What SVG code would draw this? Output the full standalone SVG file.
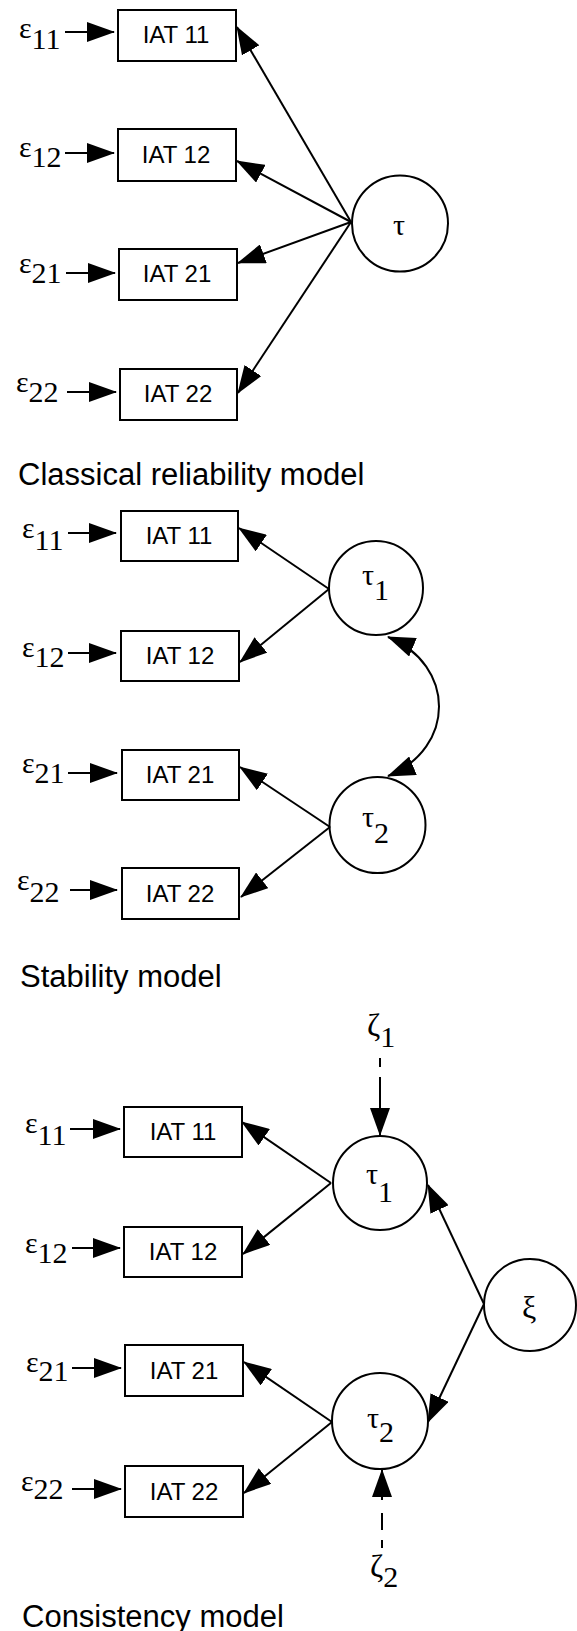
<svg xmlns="http://www.w3.org/2000/svg" width="577" height="1631" viewBox="0 0 577 1631">
<style>
.bg{fill:#fff}
.box{fill:#fff;stroke:#000;stroke-width:2}
.circ{fill:#fff;stroke:#000;stroke-width:2}
.lbl{font-family:"Liberation Sans",Arial,sans-serif;font-size:24px;text-anchor:middle;fill:#000}
.gr{font-family:"Liberation Serif","Times New Roman",serif;font-size:30px;fill:#000}
.gr2{font-family:"Liberation Serif","Times New Roman",serif;font-size:32px;fill:#000}
.cap{font-family:"Liberation Sans",Arial,sans-serif;font-size:31px;fill:#000}
.edge{stroke:#000;stroke-width:2;fill:none;marker-end:url(#ah)}
.dbl{stroke:#000;stroke-width:2;fill:none;marker-end:url(#ah);marker-start:url(#ah)}
.dash{stroke:#000;stroke-width:2;fill:none;marker-end:url(#ah)}
</style>
<defs>
<marker id="ah" markerUnits="userSpaceOnUse" viewBox="0 0 28 20" markerWidth="28" markerHeight="20" refX="27" refY="10" orient="auto-start-reverse">
<path d="M0,0 L28,10 L0,20 Z" fill="#000"/>
</marker>
</defs>
<rect class="bg" x="0" y="0" width="577" height="1631"/>

<!-- Section 1: Classical reliability model -->
<g id="s1_e11"><text class="gr" x="19" y="38">ε<tspan y="49">11</tspan></text></g>
<g id="s1_e12"><text class="gr" x="19" y="157">ε<tspan y="167">12</tspan></text></g>
<g id="s1_e21"><text class="gr" x="19" y="273">ε<tspan y="283">21</tspan></text></g>
<g id="s1_e22"><text class="gr" x="16" y="392">ε<tspan y="402">22</tspan></text></g>
<g id="s1_iat11"><rect class="box" x="118" y="10" width="118" height="51"/><text class="lbl" x="176" y="43">IAT 11</text></g>
<g id="s1_iat12"><rect class="box" x="118" y="129" width="118" height="52"/><text class="lbl" x="176" y="163">IAT 12</text></g>
<g id="s1_iat21"><rect class="box" x="119" y="249" width="118" height="51"/><text class="lbl" x="177" y="282">IAT 21</text></g>
<g id="s1_iat22"><rect class="box" x="120" y="369" width="117" height="51"/><text class="lbl" x="178" y="402">IAT 22</text></g>
<g id="s1_tau"><circle class="circ" cx="400" cy="223.5" r="48"/><text class="gr" x="393" y="235">τ</text></g>
<g id="s1_caption"><text class="cap" x="18" y="485">Classical reliability model</text></g>

<!-- Section 2: Stability model -->
<g id="s2_e11"><text class="gr" x="22" y="538">ε<tspan y="550">11</tspan></text></g>
<g id="s2_e12"><text class="gr" x="22" y="657">ε<tspan y="667">12</tspan></text></g>
<g id="s2_e21"><text class="gr" x="22" y="773">ε<tspan y="783">21</tspan></text></g>
<g id="s2_e22"><text class="gr" x="17" y="890">ε<tspan y="902">22</tspan></text></g>
<g id="s2_iat11"><rect class="box" x="121" y="511" width="117" height="50"/><text class="lbl" x="179" y="544">IAT 11</text></g>
<g id="s2_iat12"><rect class="box" x="121" y="631" width="118" height="50"/><text class="lbl" x="180" y="664">IAT 12</text></g>
<g id="s2_iat21"><rect class="box" x="122" y="750" width="117" height="50"/><text class="lbl" x="180" y="783">IAT 21</text></g>
<g id="s2_iat22"><rect class="box" x="122" y="868" width="117" height="51"/><text class="lbl" x="180" y="902">IAT 22</text></g>
<g id="s2_tau1"><circle class="circ" cx="376" cy="588" r="47"/><text class="gr" x="362" y="585">τ<tspan y="600">1</tspan></text></g>
<g id="s2_tau2"><circle class="circ" cx="377.5" cy="825" r="48"/><text class="gr" x="362" y="827">τ<tspan y="843">2</tspan></text></g>
<g id="s2_caption"><text class="cap" x="20" y="987">Stability model</text></g>

<!-- Section 3: Consistency model -->
<g id="s3_e11"><text class="gr" x="25" y="1133">ε<tspan y="1145">11</tspan></text></g>
<g id="s3_e12"><text class="gr" x="25" y="1253">ε<tspan y="1263">12</tspan></text></g>
<g id="s3_e21"><text class="gr" x="26" y="1372">ε<tspan y="1381">21</tspan></text></g>
<g id="s3_e22"><text class="gr" x="21" y="1491">ε<tspan y="1499">22</tspan></text></g>
<g id="s3_iat11"><rect class="box" x="124" y="1107" width="118" height="50"/><text class="lbl" x="183" y="1140">IAT 11</text></g>
<g id="s3_iat12"><rect class="box" x="124" y="1227" width="118" height="50"/><text class="lbl" x="183" y="1260">IAT 12</text></g>
<g id="s3_iat21"><rect class="box" x="125" y="1345" width="118" height="51"/><text class="lbl" x="184" y="1379">IAT 21</text></g>
<g id="s3_iat22"><rect class="box" x="125" y="1466" width="118" height="51"/><text class="lbl" x="184" y="1500">IAT 22</text></g>
<g id="s3_tau1"><circle class="circ" cx="380" cy="1183" r="47"/><text class="gr" x="366" y="1184">τ<tspan y="1202">1</tspan></text></g>
<g id="s3_tau2"><circle class="circ" cx="380" cy="1421" r="48"/><text class="gr" x="367" y="1428">τ<tspan y="1442">2</tspan></text></g>
<g id="s3_xi"><circle class="circ" cx="530" cy="1305" r="46"/><text class="gr2" x="522" y="1318">ξ</text></g>
<g id="s3_zeta1"><text class="gr2" x="367" y="1036">ζ<tspan class="gr" y="1047">1</tspan></text></g>
<g id="s3_zeta2"><text class="gr2" x="370" y="1577">ζ<tspan class="gr" y="1587">2</tspan></text></g>
<g id="s3_caption"><text class="cap" x="22" y="1627">Consistency model</text></g>

<g id="connectors">
<!-- section 1 -->
<line class="edge" x1="65" y1="32" x2="114" y2="32"/>
<line class="edge" x1="65" y1="153" x2="114" y2="153"/>
<line class="edge" x1="66" y1="273" x2="115" y2="273"/>
<line class="edge" x1="67" y1="392" x2="116" y2="392"/>
<line class="edge" x1="351" y1="222" x2="237" y2="27"/>
<line class="edge" x1="351" y1="222" x2="237" y2="161"/>
<line class="edge" x1="351" y1="222" x2="238" y2="263"/>
<line class="edge" x1="351" y1="222" x2="238" y2="393"/>
<!-- section 2 -->
<line class="edge" x1="68" y1="533" x2="116" y2="533"/>
<line class="edge" x1="68" y1="653" x2="116" y2="653"/>
<line class="edge" x1="68" y1="773" x2="117" y2="773"/>
<line class="edge" x1="70" y1="890" x2="117" y2="890"/>
<line class="edge" x1="329" y1="589" x2="239" y2="528"/>
<line class="edge" x1="329" y1="589" x2="240" y2="662"/>
<line class="edge" x1="330" y1="827" x2="240" y2="767"/>
<line class="edge" x1="330" y1="827" x2="241" y2="897"/>
<path class="dbl" d="M388,637 C456,665 456,748 388,776"/>
<!-- section 3 -->
<line class="edge" x1="70" y1="1129" x2="120" y2="1129"/>
<line class="edge" x1="72" y1="1248" x2="120" y2="1248"/>
<line class="edge" x1="72" y1="1368" x2="121" y2="1368"/>
<line class="edge" x1="72" y1="1489" x2="121" y2="1489"/>
<line class="edge" x1="331" y1="1183" x2="242" y2="1122"/>
<line class="edge" x1="331" y1="1183" x2="243" y2="1254"/>
<line class="edge" x1="332" y1="1422" x2="244" y2="1362"/>
<line class="edge" x1="332" y1="1422" x2="244" y2="1493"/>
<line class="edge" x1="484" y1="1304" x2="428" y2="1185"/>
<line class="edge" x1="484" y1="1304" x2="428" y2="1422"/>
<line class="dash" x1="380" y1="1058" x2="380" y2="1135" stroke-dasharray="9 10 60"/>
<line class="dash" x1="382" y1="1548" x2="382" y2="1470" stroke-dasharray="8 10 17 13 60"/>
</g>
</svg>
